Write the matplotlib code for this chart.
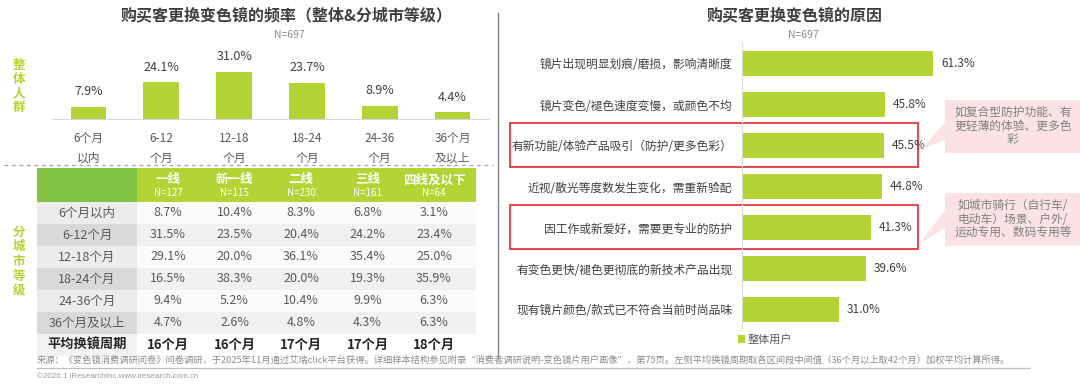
import matplotlib
matplotlib.use('Agg')
import matplotlib.pyplot as plt
from matplotlib.patches import Rectangle, Polygon
from matplotlib.lines import Line2D

plt.rcParams['font.family'] = ['Noto Sans CJK SC', 'DejaVu Sans']

# ---- data ----
freq_cats = ['6个月\n以内', '6-12\n个月', '12-18\n个月', '18-24\n个月', '24-36\n个月', '36个月\n及以上']
freq_total = [7.9, 24.1, 31.0, 23.7, 8.9, 4.4]

tier_names = ['一线', '新一线', '二线', '三线', '四线及以下']
tier_n = [127, 115, 230, 161, 64]
row_labels = ['6个月以内', '6-12个月', '12-18个月', '18-24个月', '24-36个月', '36个月及以上']
tier_values = [
    [8.7, 10.4, 8.3, 6.8, 3.1],
    [31.5, 23.5, 20.4, 24.2, 23.4],
    [29.1, 20.0, 36.1, 35.4, 25.0],
    [16.5, 38.3, 20.0, 19.3, 35.9],
    [9.4, 5.2, 10.4, 9.9, 6.3],
    [4.7, 2.6, 4.8, 4.3, 6.3],
]
avg_cycle = [16, 16, 17, 17, 18]

reasons = ['镜片出现明显划痕/磨损，影响清晰度',
           '镜片变色/褪色速度变慢，或颜色不均',
           '有新功能/体验产品吸引（防护/更多色彩）',
           '近视/散光等度数发生变化，需重新验配',
           '因工作或新爱好，需要更专业的防护',
           '有变色更快/褪色更彻底的新技术产品出现',
           '现有镜片颜色/款式已不符合当前时尚品味']
reason_values = [61.3, 45.8, 45.5, 44.8, 41.3, 39.6, 31.0]
highlight_rows = [2, 4]
notes = [['如复合型防护功能、有', '更轻薄的体验、更多色', '彩'],
         ['如城市骑行（自行车/', '电动车）场景、户外/', '运动专用、数码专用等']]

source = ('来源：《变色镜消费调研问卷》问卷调研，于2025年11月通过艾瑞click平台获得。详细样本结构参见附录“消费者调研说明-变色镜片用户画像”，'
          '第75页。左侧平均换镜周期取各区间段中间值（36个月以上取42个月）加权平均计算所得。')
copyright_txt = '©2026.1 iResearchInc.www.iresearch.com.cn'

# ---- style ----
W, H = 1080, 387
GREEN = '#B4D334'
DKGREEN = '#80C242'
TXT = '#404040'
GRAY = '#595959'


def fx(p):
    return p / W


def fy(p):
    return 1 - p / H


def rect(x0, y0, x1, y1):
    return [fx(x0), fy(y1), fx(x1) - fx(x0), fy(y0) - fy(y1)]


fig = plt.figure(figsize=(W / 100, H / 100), dpi=100)

# ---- left: overall frequency bars ----
fig.text(fx(286), fy(15), '购买客更换变色镜的频率（整体&分城市等级）', ha='center', va='center',
         fontsize=11.5, fontweight='bold', color=TXT)
fig.text(fx(289), fy(35), 'N=697', ha='center', va='center', fontsize=7.5, color='#8c8c8c')

ax1 = fig.add_axes(rect(52, 40, 489, 119))
x = range(len(freq_total))
ax1.bar(x, freq_total, width=0.49, color=GREEN)
ax1.set_xlim(-0.5, 5.5)
ax1.set_ylim(0, 79 / 1.516)
for s in ['top', 'left', 'right']:
    ax1.spines[s].set_visible(False)
ax1.spines['bottom'].set_color('#d9d9d9')
ax1.set_xticks([])
ax1.set_yticks([])
for i, v in enumerate(freq_total):
    ax1.annotate(f'{v:.1f}%', (i, v), xytext=(0, 11), textcoords='offset points',
                 ha='center', va='center', fontsize=9, color=TXT)
    for k, line in enumerate(freq_cats[i].split('\n')):
        ax1.annotate(line, (i, 0), xytext=(0, -13.7 - 14.4 * k), textcoords='offset points',
                     ha='center', va='center', fontsize=8.5, color=GRAY, annotation_clip=False)

for k, ch in enumerate('整体人群'):
    fig.text(fx(19), fy(65 + 14.3 * k), ch, ha='center', va='center', fontsize=9,
             fontweight='bold', color=GREEN)
for k, ch in enumerate('分城市等级'):
    fig.text(fx(19), fy(232 + 14.7 * k), ch, ha='center', va='center', fontsize=9,
             fontweight='bold', color=GREEN)

fig.add_artist(Line2D([fx(4), fx(493)], [fy(165), fy(165)], color='#a6a6a6', lw=0.9,
                      linestyle=(0, (3, 3)), transform=fig.transFigure))

# ---- left: city tier table ----
axt = fig.add_axes(rect(37, 168, 476, 356))
axt.set_xlim(37, 476)
axt.set_ylim(356, 168)
axt.axis('off')
lab_x0, lab_x1, data_x1 = 37, 137, 476
head_y0, head_y1, row_h = 168, 202, 22
col_c = [168 + 66.5 * j for j in range(len(tier_names))]

axt.add_patch(Rectangle((lab_x0, head_y0), lab_x1 - lab_x0, head_y1 - head_y0, color=DKGREEN, lw=0))
axt.add_patch(Rectangle((lab_x1, head_y0), data_x1 - lab_x1, head_y1 - head_y0, color=GREEN, lw=0))
for j, name in enumerate(tier_names):
    axt.text(col_c[j], 180, name, ha='center', va='center', fontsize=9, fontweight='bold', color='white')
    axt.text(col_c[j], 193, f'N={tier_n[j]}', ha='center', va='center', fontsize=7, color='white')

all_rows = row_labels + ['平均换镜周期']
for i, lab in enumerate(all_rows):
    y0 = head_y1 + row_h * i
    if i < len(row_labels):
        lc = '#ECECEC' if i % 2 == 0 else '#D9D9D9'
        dc = '#FBFBFB' if i % 2 == 0 else '#F1F1F1'
        cells = [f'{v:.1f}%' for v in tier_values[i]]
        fw, fs, col = 'normal', 9, GRAY
    else:
        lc, dc = '#F2F2F2', 'white'
        cells = [f'{v}个月' for v in avg_cycle]
        fw, fs, col = 'bold', 9.5, '#262626'
    axt.add_patch(Rectangle((lab_x0, y0), lab_x1 - lab_x0, row_h, color=lc, lw=0))
    axt.add_patch(Rectangle((lab_x1, y0), data_x1 - lab_x1, row_h, color=dc, lw=0))
    axt.text(87, y0 + row_h / 2, lab, ha='center', va='center', fontsize=fs, fontweight=fw, color=col)
    for j, c in enumerate(cells):
        axt.text(col_c[j], y0 + row_h / 2, c, ha='center', va='center', fontsize=fs, fontweight=fw, color=col)

# divider
fig.add_artist(Line2D([fx(498), fx(498)], [fy(13), fy(358)], color='#7f7f7f', lw=1.0,
                      transform=fig.transFigure))

# ---- right: reasons bars ----
fig.text(fx(795), fy(15), '购买客更换变色镜的原因', ha='center', va='center',
         fontsize=11.5, fontweight='bold', color=TXT)
fig.text(fx(803), fy(35), 'N=697', ha='center', va='center', fontsize=7.5, color='#8c8c8c')

ax2 = fig.add_axes(rect(742, 43, 1000, 330))
y = range(len(reasons))
ax2.barh(y, reason_values, height=0.61, color=GREEN)
ax2.set_ylim(len(reasons) - 0.5, -0.5)
ax2.set_xlim(0, 258 / 3.12)
for s in ['top', 'bottom', 'right']:
    ax2.spines[s].set_visible(False)
ax2.spines['left'].set_color('#d9d9d9')
ax2.set_xticks([])
ax2.set_yticks(list(y))
ax2.set_yticklabels(reasons, fontsize=8.5, color=TXT)
ax2.tick_params(axis='y', length=0, pad=7)
for i, v in enumerate(reason_values):
    ax2.annotate(f'{v:.1f}%', (v, i), xytext=(5.5, 0), textcoords='offset points',
                 ha='left', va='center', fontsize=8.5, color=TXT)

# highlight boxes
bx0 = (510 - 742) / 3.12
bx1 = (918 - 742) / 3.12
for i in highlight_rows:
    ax2.add_patch(Rectangle((bx0, i - 0.54), bx1 - bx0, 1.07, fill=False, edgecolor='#E8262C',
                            lw=1.2, clip_on=False))

# callouts
call_boxes = [(945, 100, 1080, 153), (945, 193, 1080, 246)]
pointers = [[(945, 122), (945, 140), (922, 149)], [(945, 210), (945, 228), (919, 244)]]
for n, (x0, y0, x1, y1) in enumerate(call_boxes):
    fig.add_artist(Rectangle((fx(x0), fy(y1)), fx(x1) - fx(x0), fy(y0) - fy(y1), color='#FBE3E5',
                             lw=0, transform=fig.transFigure))
    fig.add_artist(Polygon([(fx(a), fy(b)) for a, b in pointers[n]], closed=True, color='#FBE3E5',
                           lw=0, transform=fig.transFigure))
    for k, line in enumerate(notes[n]):
        fig.text(fx(1013), fy(y0 + 12.5 + 13.6 * k), line, ha='center', va='center',
                 fontsize=8.5, color='#808080')

# legend
fig.add_artist(Rectangle((fx(738), fy(343)), fx(7), 8 / H, color=GREEN, lw=0, transform=fig.transFigure))
fig.text(fx(748), fy(339), '整体用户', ha='left', va='center', fontsize=8, color=GRAY)

# ---- footer ----
fig.text(fx(37), fy(360), source, ha='left', va='center', fontsize=6.7, color='#8c8c8c')
fig.add_artist(Line2D([fx(37), fx(1030)], [fy(368), fy(368)], color='#bfbfbf', lw=0.9,
                      transform=fig.transFigure))
fig.text(fx(37), fy(377), copyright_txt, ha='left', va='center', fontsize=5.8, color='#999999',
         family=['Liberation Sans', 'DejaVu Sans'])

fig.savefig('out.png', dpi=100)
